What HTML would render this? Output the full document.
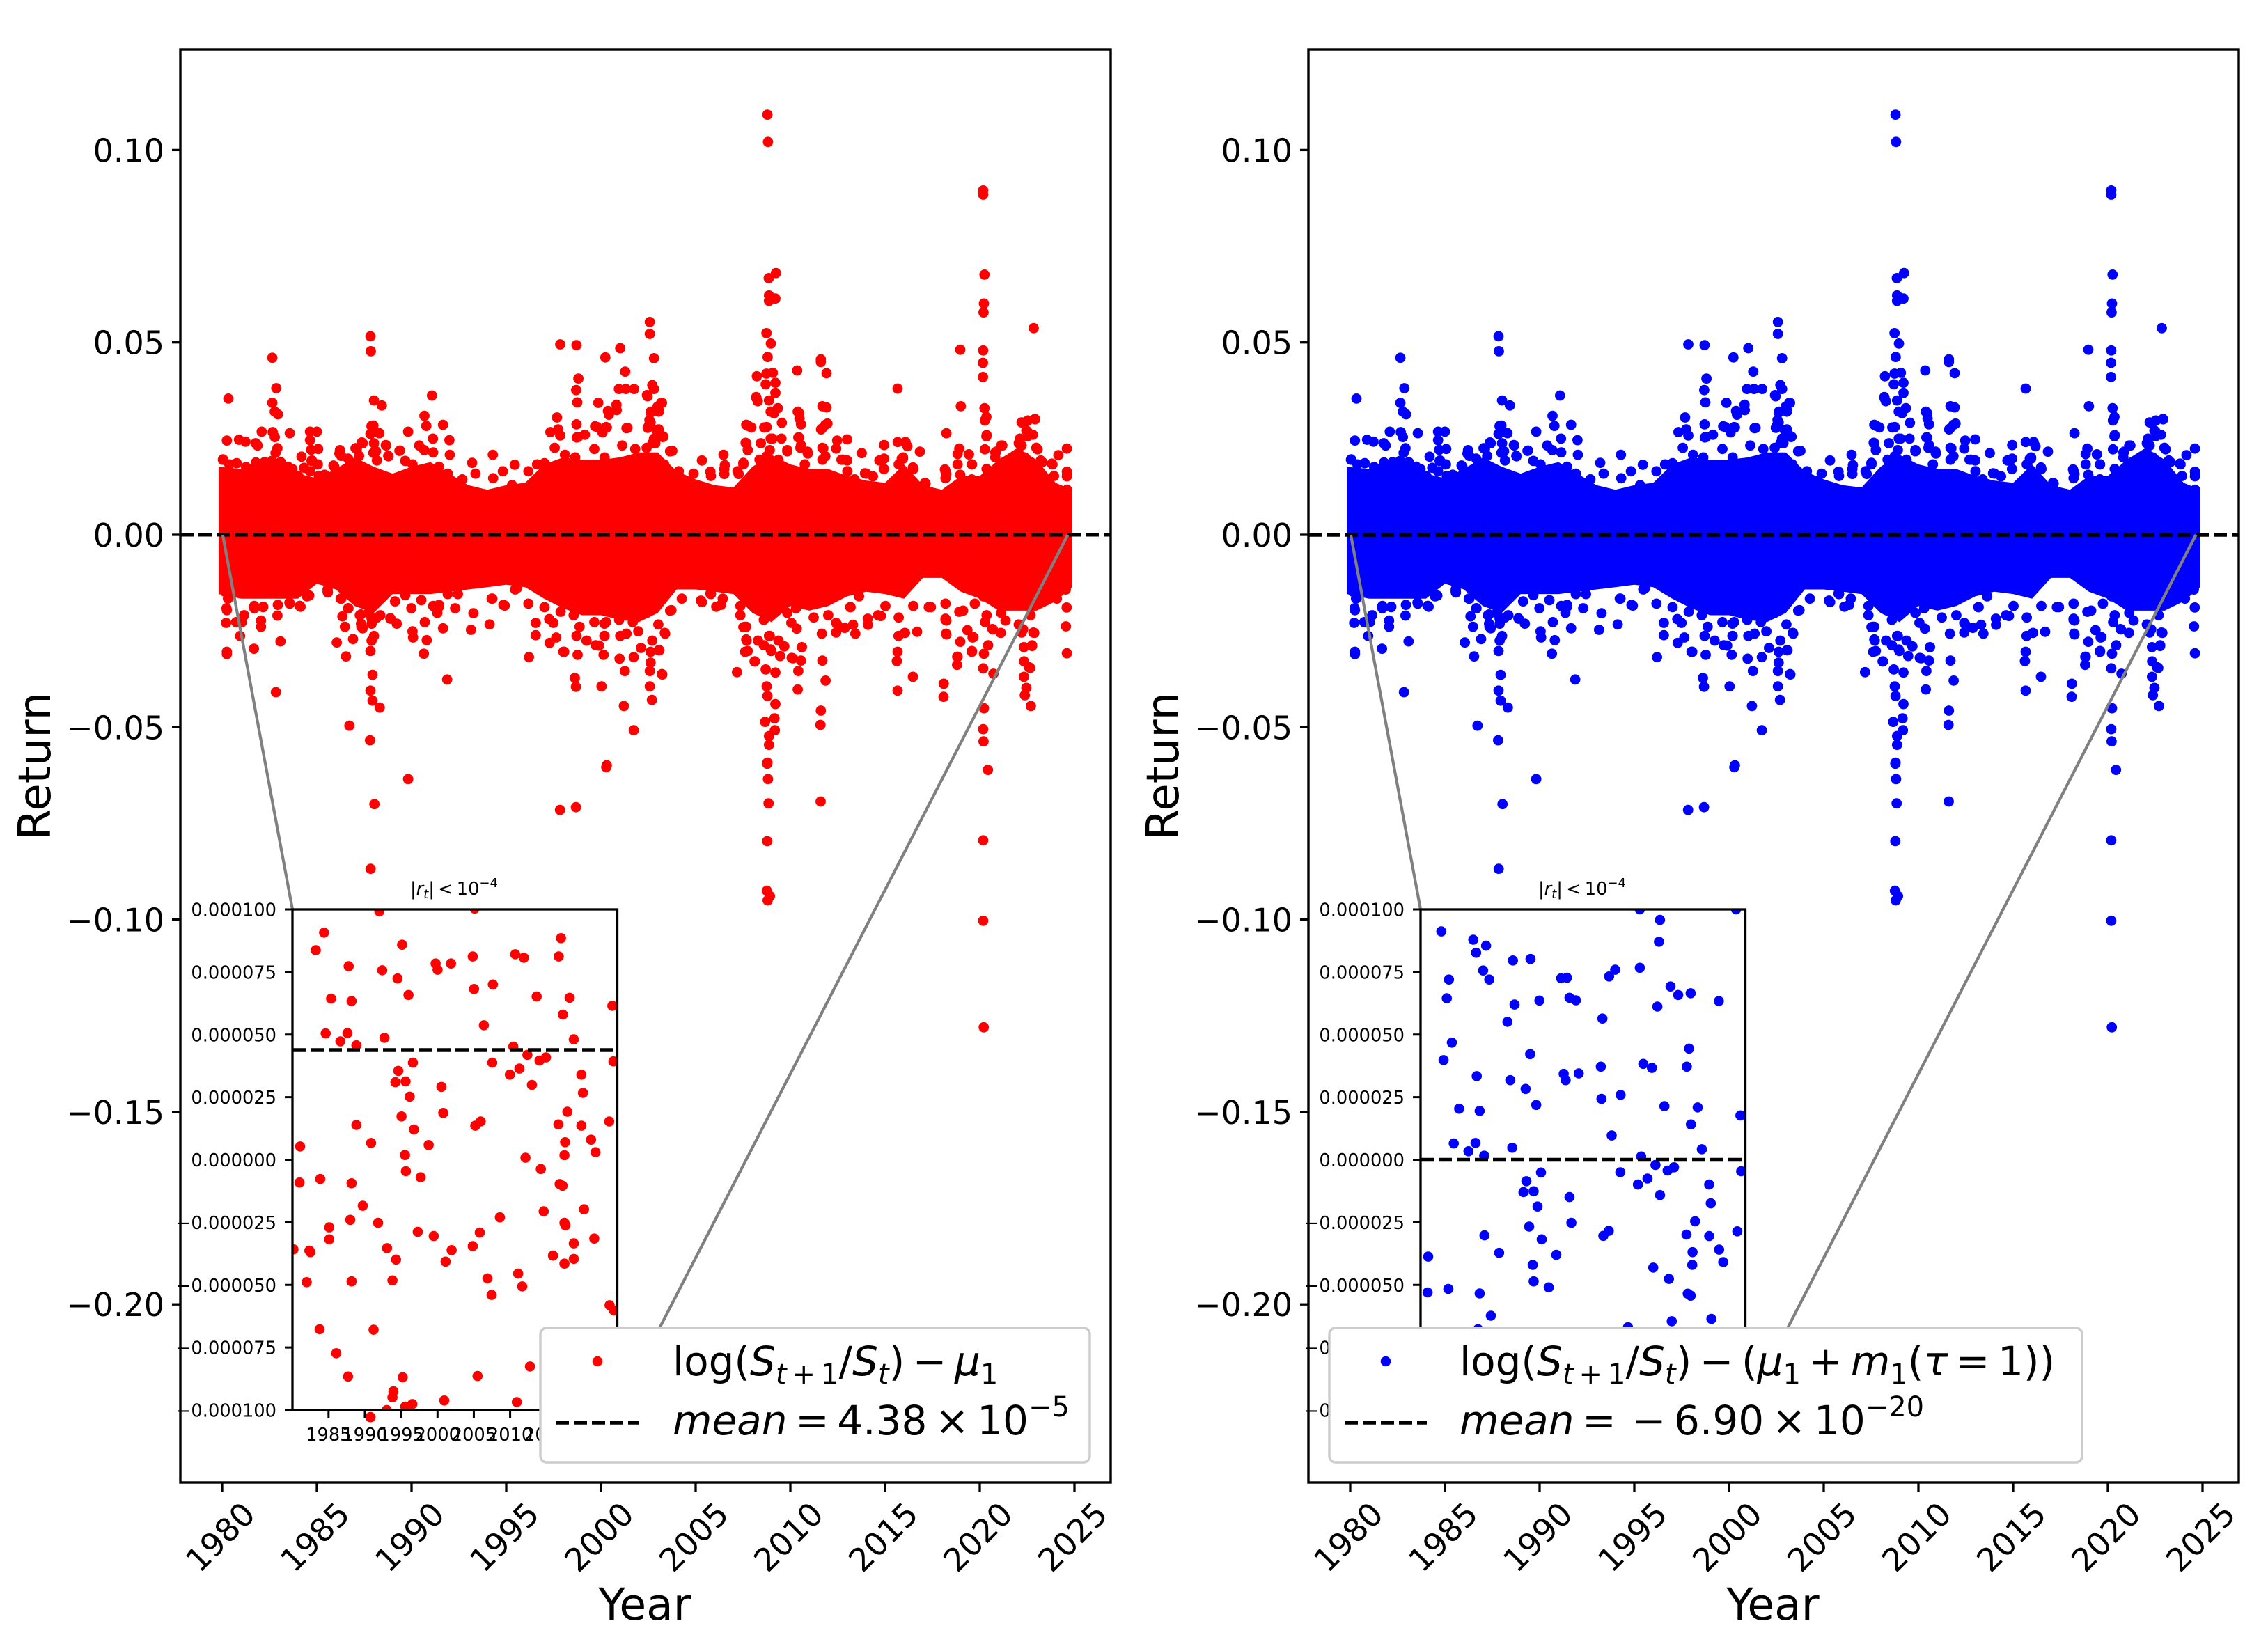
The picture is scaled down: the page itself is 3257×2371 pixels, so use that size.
<!DOCTYPE html>
<html lang="en">
<head>
<meta charset="utf-8">
<title>Returns scatter panels</title>
<style>
html,body{margin:0;padding:0;background:#fff;}
svg{display:block;}
text{font-family:"DejaVu Sans","Liberation Sans",sans-serif;fill:#000;}
.i{font-style:italic;}
</style>
</head>
<body>
<svg id="fig" xmlns="http://www.w3.org/2000/svg" width="3257" height="2371" viewBox="0 0 3257 2371">
<defs>
<clipPath id="inset-clip"><rect x="420" y="1306" width="466.5" height="719"/></clipPath>
</defs>
<rect width="3257" height="2371" fill="#fff"/>

<g id="left-panel"></g>
<g id="left-legend">
<rect x="776" y="1907" width="789" height="193" rx="9" fill="#fff" stroke="#ccc" stroke-width="3.4"/>
<circle cx="858" cy="1955" r="7.3" fill="#f00"/>
<line x1="798" x2="918" y1="2043" y2="2043" stroke="#000" stroke-width="5.5" stroke-dasharray="19 7"/>
<text x="966" y="1975" font-size="58">log(<tspan class="i">S</tspan><tspan class="i" font-size="40" dy="12">t</tspan><tspan font-size="40">&#8201;+&#8201;1</tspan><tspan dy="-12">/</tspan><tspan class="i">S</tspan><tspan class="i" font-size="40" dy="12">t</tspan><tspan dy="-12">)&#8201;−&#8201;</tspan><tspan class="i">μ</tspan><tspan font-size="40" dy="12">1</tspan></text>
<text x="966" y="2060" font-size="58"><tspan class="i">mean</tspan>&#8201;=&#8201;4.38&#8201;×&#8201;10<tspan font-size="40" dy="-26">−5</tspan></text>
</g>

<g id="right-panel"></g>
<g id="right-legend">
<rect x="1909" y="1907" width="1081" height="193" rx="9" fill="#fff" stroke="#ccc" stroke-width="3.4"/>
<circle cx="1990" cy="1955" r="7.3" fill="#00f"/>
<line x1="1931" x2="2049" y1="2043" y2="2043" stroke="#000" stroke-width="5.5" stroke-dasharray="19 7"/>
<text x="2096" y="1975" font-size="58">log(<tspan class="i">S</tspan><tspan class="i" font-size="40" dy="12">t</tspan><tspan font-size="40">&#8201;+&#8201;1</tspan><tspan dy="-12">/</tspan><tspan class="i">S</tspan><tspan class="i" font-size="40" dy="12">t</tspan><tspan dy="-12">)&#8201;−&#8201;(</tspan><tspan class="i">μ</tspan><tspan font-size="40" dy="12">1</tspan><tspan dy="-12">&#8201;+&#8201;</tspan><tspan class="i">m</tspan><tspan font-size="40" dy="12">1</tspan><tspan dy="-12">(</tspan><tspan class="i">τ</tspan>&#8201;=&#8201;1))</text>
<text x="2096" y="2060" font-size="58"><tspan class="i">mean</tspan>&#8201;=&#8201;&#8201;−&#8201;6.90&#8201;×&#8201;10<tspan font-size="40" dy="-26">−20</tspan></text>
</g>

<text x="926" y="2326" font-size="63" text-anchor="middle">Year</text>
<text x="2546" y="2326" font-size="63" text-anchor="middle">Year</text>
<text transform="translate(72 1100) rotate(-90)" font-size="64" text-anchor="middle">Return</text>
<text transform="translate(1692 1100) rotate(-90)" font-size="64" text-anchor="middle">Return</text>
</svg>

<script>
// ---- Chart data ----
const xTickYears = [1980,1985,1990,1995,2000,2005,2010,2015,2020,2025];
const yTickValues = [0.10,0.05,0,-0.05,-0.10,-0.15,-0.20];
const yTickLabels = ["0.10","0.05","0.00","−0.05","−0.10","−0.15","−0.20"];
const insetXTickYears = [1985,1990,1995,2000,2005,2010,2015,2020];
const insetYTickMicro = [100,75,50,25,0,-25,-50,-75,-100];
const insetYTickLabels = ["0.000100","0.000075","0.000050","0.000025","0.000000","−0.000025","−0.000050","−0.000075","−0.000100"];
const meanMainLeft = 0.0000438;
const meanMainRight = 0;
const meanMicroLeft = 43.8;
const meanMicroRight = 0;
const connectorYears = [1980.03,2024.65];

// Solid core of the daily-return cloud: visible edge per year.
const bandYears = [1979.82,1981,1982,1983,1984,1985,1986,1987,1988,1989,1990,1991,1992,1993,1994,1995,1996,1997,1998,1999,2000,2001,2002,2003,2004,2005,2006,2007,2008,2009,2010,2011,2012,2013,2014,2015,2016,2017,2018,2019,2020,2021,2022,2023,2024,2024.88];
const bandUpper = [.0177,.0171,.0195,.0189,.0159,.0147,.0171,.0201,.0177,.0159,.0177,.0189,.0159,.0129,.0117,.0129,.0135,.0183,.0201,.0195,.0195,.0201,.0214,.0214,.0165,.0144,.0129,.0123,.0177,.0208,.0183,.0171,.0171,.0153,.0141,.0135,.0183,.0129,.0117,.0153,.0153,.0195,.0226,.0195,.0135,.0117];
const bandLower = [-.0154,-.0166,-.0166,-.0166,-.0166,-.0127,-.0142,-.0185,-.0203,-.0154,-.0154,-.0154,-.0148,-.0142,-.0136,-.0130,-.0136,-.0166,-.0191,-.0209,-.0209,-.0221,-.0227,-.0203,-.0142,-.0142,-.0148,-.0154,-.0203,-.0227,-.0185,-.0197,-.0185,-.0160,-.0148,-.0154,-.0166,-.0112,-.0112,-.0148,-.0166,-.0197,-.0197,-.0197,-.0173,-.0136];

// Points forming the lumpy outer edge of the cloud
const edgeUpperEarly = [[1980.04,.0195],[1980.38,.0183],[1980.77,.0186],[1981.26,.0176],[1981.78,.0188],[1982.24,.0189],[1982.63,.0192],[1983.09,.0189],[1983.48,.0177],[1983.71,.0171],[1984.02,.0153],[1984.33,.0174],[1984.72,.0192],[1985.02,.0183],[1984.64,.0165],[1985.1,.0153],[1985.41,.0156],[1985.88,.0180],[1986.19,.0211],[1986.65,.0198],[1987.11,.0223],[1987.42,.0238],[1987.89,.0283],[1988.27,.0265],[1988.66,.0232],[1988.12,.0217],[1988.78,.0204],[1989.36,.0218],[1989.67,.0192],[1990.05,.0183],[1990.67,.0220],[1991.14,.0214],[1991.45,.0177],[1991.91,.0159],[1992.68,.0144],[1993.38,.0159],[1994.31,.0147],[1994.82,.0165],[1995.31,.0129],[1996.17,.0165],[1996.63,.0183],[1997.02,.0186],[1997.56,.0226],[1998.1,.0208],[1998.64,.0201],[1999.65,.0223],[1998.72,.0253],[1999.8,.0280],[2000.27,.0280],[2001.35,.0277],[2001.12,.0232],[2000.19,.0201],[2001.81,.0223]];
const edgeLowerEarly = [[1980.15,-.0148],[1980.31,-.0166],[1980.85,-.0148],[1981.7,-.0185],[1982.16,-.0188],[1982.94,-.0182],[1983.55,-.0176],[1984.1,-.0185],[1984.48,-.0157],[1985.57,-.0142],[1986.26,-.0166],[1986.65,-.0191],[1987.27,-.0209],[1987.73,-.0203],[1988.35,-.0209],[1989.13,-.0173],[1989.67,-.0157],[1990.52,-.0170],[1991.14,-.0185],[1991.45,-.0182],[1991.91,-.0154],[1992.45,-.0154],[1993.3,-.0127],[1994.23,-.0166],[1994.85,-.0182],[1995.47,-.0142],[1996.17,-.0179],[1997.02,-.0188],[1997.87,-.0200],[1998.56,-.0209],[1998.87,-.0239],[1999.65,-.0227],[2000.27,-.0227],[2000.96,-.0221],[2001.35,-.0257],[2001.97,-.0251]];
const edgeUpperLate = [[2002.41,.0226],[2002.87,.0238],[2003.65,.0217],[2003.34,.0183],[2004.11,.0165],[2004.89,.0159],[2005.81,.0153],[2006.51,.0171],[2007.21,.0165],[2007.52,.0183],[2008.37,.0195],[2008.75,.0204],[2009.37,.0195],[2009.84,.0217],[2010.76,.0183],[2011.69,.0195],[2012.78,.0195],[2013.01,.0165],[2014.01,.0159],[2013.39,.0144],[2014.94,.0171],[2015.95,.0198],[2016.49,.0171],[2017.11,.0135],[2018.19,.0165],[2018.97,.0156],[2019.58,.0144],[2020.36,.0171],[2020.82,.0201],[2021.29,.0189],[2022.21,.0232],[2022.52,.0256],[2022.99,.0226],[2022.37,.0201],[2023.3,.0189],[2023.92,.0153],[2024.61,.0117]];
const edgeLowerLate = [[2002.41,-.0203],[2003.03,-.0233],[2003.65,-.0197],[2004.27,-.0166],[2005.81,-.0154],[2006.43,-.0166],[2007.36,-.0185],[2007.36,-.0209],[2007.67,-.0239],[2007.67,-.0272],[2008.6,-.0221],[2009.84,-.0203],[2010.3,-.0191],[2011.23,-.0215],[2012.0,-.0209],[2012.47,-.0233],[2013.16,-.0188],[2013.63,-.0160],[2014.09,-.0218],[2014.63,-.0209],[2015.02,-.0185],[2015.72,-.0215],[2016.49,-.0185],[2017.42,-.0188],[2018.19,-.0179],[2018.19,-.0221],[2019.12,-.0197],[2019.74,-.0179],[2020.2,-.0160],[2021.13,-.0203],[2021.44,-.0179],[2022.06,-.0233],[2022.68,-.0209],[2023.45,-.0166],[2024.07,-.0166],[2024.54,-.0142]];

// Individually visible points above the core, 1980-2002
const upperFringeEarly = [[1980.33,.0354],[1982.65,.0460],[1982.86,.0381],[1982.65,.0343],[1982.78,.0320],[1982.95,.0313],[1987.83,.0516],[1987.85,.0477],[1988.02,.0349],[1988.43,.0336],[1991.08,.0362],[1990.68,.0309],[1990.78,.0283],[1991.66,.0286],[1989.82,.0268],[1991.13,.0250],[1992.0,.0246],[1992.02,.0208],[1990.4,.0232],[1989.39,.0219],[1993.2,.0187],[1994.29,.0208],[1995.45,.0182],[1997.85,.0495],[1998.71,.0493],[2001.02,.0485],[2000.23,.0461],[2002.58,.0553],[2002.58,.0522],[2002.8,.0459],[2001.28,.0424],[1998.81,.0406],[1998.69,.0376],[1998.75,.0344],[2000.95,.0379],[2001.32,.0379],[2001.75,.0379],[2002.71,.0389],[2002.8,.0379],[2002.43,.0363],[1999.86,.0343],[2000.82,.0338],[2000.83,.0324],[2000.37,.0322],[2000.42,.0312],[2003.18,.0343],[2002.99,.0333],[2003.07,.0322],[2002.62,.0318],[1997.68,.0305],[1998.71,.0287],[1997.74,.0274],[1997.33,.0267],[1997.85,.0258],[1999.69,.0282],[2000.31,.0279],[2001.4,.0278],[2002.62,.0292],[2002.47,.0278],[2002.94,.0272],[2003.27,.0254],[1998.79,.0254],[1999.15,.0260],[2000.08,.0266],[1980.05,.0196],[1980.25,.0245],[1980.89,.0247],[1981.23,.0242],[1981.77,.0238],[1981.87,.0232],[1982.09,.0268],[1982.67,.0267],[1982.78,.0254],[1983.57,.0264],[1984.64,.0268],[1985.0,.0268],[1984.64,.0246],[1984.7,.0221],[1985.07,.0223],[1982.92,.0225],[1982.82,.0213],[1984.19,.0203],[1984.74,.0193],[1985.05,.0183],[1986.22,.0220],[1986.29,.0205],[1987.04,.0225],[1987.38,.0240],[1987.89,.0282],[1987.98,.0284],[1988.3,.0264],[1987.83,.0262],[1988.02,.0238],[1988.64,.0233],[1987.98,.0213],[1988.17,.0193],[1988.77,.0205],[1987.23,.0205],[1985.92,.0177]];

// Individually visible points above the core, 2002-2025
const upperFringeLate = [[2008.79,.1092],[2008.82,.1021],[2020.18,.0895],[2020.18,.0884],[2009.24,.0680],[2008.86,.0667],[2020.25,.0676],[2008.87,.0622],[2008.87,.0608],[2009.21,.0614],[2020.22,.0601],[2020.2,.0578],[2022.85,.0537],[2008.74,.0524],[2008.97,.0497],[2008.8,.0462],[2018.97,.0481],[2020.18,.0479],[2020.17,.0447],[2020.17,.0410],[2011.61,.0456],[2011.61,.0449],[2011.91,.0420],[2010.36,.0427],[2008.23,.0412],[2008.74,.0419],[2009.07,.0421],[2015.66,.0380],[2008.2,.0358],[2008.28,.0347],[2008.7,.0391],[2009.21,.0395],[2009.21,.0369],[2008.87,.0349],[2008.96,.0320],[2009.34,.0329],[2019.0,.0334],[2011.69,.0334],[2011.91,.0331],[2020.25,.0329],[2020.35,.0306],[2020.27,.0297],[2010.39,.0320],[2010.56,.0287],[2010.48,.0302],[2022.29,.0291],[2022.92,.0300],[2022.54,.0297],[2011.96,.0289],[2011.66,.0276],[2007.78,.0283],[2007.64,.0239],[2007.94,.0279],[2009.55,.0291],[2008.62,.0279],[2008.96,.0250],[2010.42,.0253],[2011.74,.0225],[2018.24,.0264],[2020.35,.0256],[2020.27,.0222],[2013.0,.0248],[2012.47,.0245],[2012.42,.0224],[2014.95,.0233],[2015.67,.0241],[2016.08,.0241],[2016.18,.0230],[2016.84,.0216],[2013.77,.0212],[2018.92,.0224],[2018.83,.0210],[2019.42,.0209],[2018.83,.0183],[2019.59,.0183],[2021.19,.0232],[2020.86,.0216],[2024.6,.0224],[2024.15,.0207],[2023.81,.0185],[2024.6,.0164],[2024.6,.0152],[2022.46,.0271],[2022.8,.0260],[2023.05,.0222],[2022.12,.0250],[2021.87,.0204],[2006.47,.0208],[2005.33,.0193],[2006.54,.0181],[2005.78,.0164],[2006.51,.0158],[2002.8,.0250],[2003.77,.0218],[2003.3,.0255],[2003.05,.0274],[2002.54,.0285],[2002.46,.0360],[2003.22,.0343],[2003.05,.0320],[2002.63,.0320],[2010.9,.0216],[2010.56,.0233],[2013.0,.0193],[2014.7,.0193],[2014.95,.0198],[2015.88,.0198],[2016.47,.0175],[2013.94,.0160],[2014.36,.0152],[2017.14,.0133],[2018.16,.0170],[2018.24,.0158],[2023.22,.0193],[2007.27,.0158],[2008.45,.0193],[2007.52,.0187],[2024.61,.0159],[2023.84,.0183],[2022.91,.0301],[2022.21,.0292],[2022.52,.0268],[2022.06,.0238],[2022.99,.0226],[2022.06,.0201],[2020.28,.0298],[2020.36,.0259],[2021.13,.0232],[2020.82,.0214],[2019.43,.0209],[2019.58,.0183],[2018.19,.0165],[2018.19,.0147],[2014.87,.0195],[2014.94,.0171],[2015.95,.0201],[2015.72,.0183],[2016.49,.0171],[2007.52,.0186],[2007.67,.0238],[2007.75,.0220],[2011.85,.0286],[2011.62,.0274],[2010.46,.0316],[2010.46,.0253],[2010.53,.0226],[2010.92,.0211],[2011.69,.0226],[2011.85,.0204],[2012.7,.0195],[2013.01,.0165],[2007.67,.0286],[2008.75,.0280],[2008.21,.0355],[2009.14,.0316],[2008.44,.0238],[2009.06,.0250],[2009.53,.0250],[2008.91,.0220],[2009.84,.0220],[2002.56,.0298],[2002.49,.0280],[2002.8,.0250],[2003.26,.0256],[2003.65,.0217],[2002.72,.0238]];

// Individually visible points below the core, 1980-2003
const lowerFringeEarly = [[1980.25,-.0196],[1980.74,-.0227],[1980.21,-.0229],[1981.04,-.0227],[1980.95,-.0263],[1980.25,-.0304],[1980.25,-.0310],[1981.68,-.0296],[1982.05,-.0223],[1982.05,-.0239],[1981.7,-.0191],[1982.17,-.0187],[1982.92,-.0210],[1983.08,-.0277],[1982.84,-.0409],[1984.14,-.0187],[1983.57,-.0179],[1984.6,-.0158],[1985.58,-.0150],[1986.29,-.0166],[1986.67,-.0191],[1986.35,-.0212],[1986.48,-.0239],[1986.05,-.0280],[1986.91,-.0271],[1986.54,-.0316],[1987.33,-.0207],[1987.42,-.0243],[1987.33,-.0231],[1988.17,-.0215],[1987.89,-.0231],[1988.88,-.0217],[1989.22,-.0231],[1988.02,-.0263],[1987.89,-.0275],[1987.83,-.0302],[1987.94,-.0364],[1987.83,-.0405],[1987.94,-.0431],[1988.32,-.0449],[1986.72,-.0496],[1987.81,-.0534],[1990.05,-.0251],[1990.08,-.0267],[1989.99,-.0191],[1990.8,-.0274],[1990.65,-.0309],[1990.7,-.0227],[1991.66,-.0243],[1992.3,-.0191],[1991.88,-.0376],[1991.45,-.0187],[1991.36,-.0203],[1993.27,-.0204],[1993.14,-.0247],[1994.12,-.0233],[1994.92,-.0184],[1995.58,-.0138],[1994.27,-.0166],[1996.56,-.0229],[1996.56,-.0261],[1996.2,-.0318],[1997.27,-.0219],[1997.49,-.0229],[1997.64,-.0267],[1997.29,-.0281],[1998.06,-.0304],[1998.77,-.0312],[1998.71,-.0263],[1999.24,-.0275],[1998.62,-.0372],[1998.68,-.0395],[2000.03,-.0394],[2000.14,-.0312],[1999.9,-.0288],[2000.18,-.0263],[2000.98,-.0322],[2001.26,-.0354],[2001.73,-.0318],[2002.11,-.0294],[2002.62,-.0304],[2003.09,-.0300],[2002.62,-.0332],[2002.58,-.0354],[2003.24,-.0363],[2002.58,-.0394],[2002.69,-.0429],[2001.21,-.0445],[2001.73,-.0508],[2000.31,-.0599],[2003.37,-.0255],[2002.71,-.0275],[2001.02,-.0263],[2001.68,-.0227],[2000.18,-.0231],[2005.8,-.0154],[2005.34,-.0175],[2006.09,-.0187],[1980.23,-.0191],[1981.16,-.0209],[1984.1,-.0185],[1984.48,-.0160],[1985.57,-.0148],[1987.35,-.0239],[1987.89,-.0218],[1988.89,-.0218],[1998.02,-.0304],[1999.72,-.0287],[2000.19,-.0263]];

// Individually visible points below the core, 2003-2025
const lowerFringeLate = [[2003.22,-.0362],[2003.05,-.0300],[2003.39,-.0257],[2003.72,-.0196],[2007.18,-.0357],[2008.75,-.0394],[2008.79,-.0419],[2009.21,-.0440],[2009.16,-.0477],[2008.67,-.0486],[2008.87,-.0523],[2008.87,-.0546],[2009.18,-.0508],[2008.79,-.0592],[2008.11,-.0329],[2007.61,-.0304],[2007.69,-.0275],[2007.52,-.0240],[2008.7,-.0350],[2009.21,-.0358],[2008.96,-.0298],[2008.87,-.0263],[2009.46,-.0315],[2010.14,-.0321],[2010.61,-.0292],[2010.56,-.0327],[2010.42,-.0354],[2010.39,-.0402],[2011.61,-.0457],[2011.59,-.0494],[2011.86,-.0379],[2011.69,-.0327],[2011.66,-.0257],[2010.05,-.0229],[2010.34,-.0244],[2012.42,-.0254],[2012.42,-.0229],[2013.43,-.0257],[2012.87,-.0242],[2013.31,-.0234],[2014.1,-.0234],[2014.78,-.0211],[2013.18,-.0188],[2015.71,-.0263],[2016.05,-.0255],[2016.69,-.0252],[2015.66,-.0304],[2015.62,-.0328],[2015.66,-.0405],[2016.47,-.0369],[2018.1,-.0387],[2018.09,-.0421],[2018.24,-.0259],[2018.83,-.0317],[2018.8,-.0338],[2018.97,-.0278],[2019.59,-.0304],[2019.62,-.0267],[2020.18,-.0347],[2020.72,-.0361],[2020.22,-.0309],[2020.22,-.0451],[2020.18,-.0505],[2020.2,-.0537],[2022.33,-.0292],[2022.76,-.0289],[2022.34,-.0329],[2022.66,-.0346],[2022.33,-.0369],[2022.46,-.0398],[2022.38,-.0417],[2022.7,-.0445],[2024.59,-.0189],[2024.55,-.0238],[2024.6,-.0308],[2022.88,-.0255],[2022.29,-.0246],[2021.36,-.0223],[2020.69,-.0246],[2021.11,-.0255],[2017.31,-.0188],[2018.24,-.0223],[2018.92,-.0200],[2006.34,-.0182],[2005.78,-.0153],[2005.28,-.0171],[2007.59,-.0239],[2007.75,-.0302],[2008.13,-.0329],[2008.29,-.0275],[2008.6,-.0287],[2008.91,-.0263],[2009.37,-.0275],[2009.68,-.0290],[2008.99,-.0302],[2010.07,-.0320],[2018.19,-.0218],[2018.22,-.0257],[2019.35,-.0248],[2019.66,-.0266],[2020.36,-.0209],[2020.28,-.0227],[2020.67,-.0245],[2020.44,-.0287],[2019.59,-.0302],[2018.81,-.0317],[2022.21,-.0254],[2022.83,-.0254],[2022.76,-.0287],[2022.6,-.0344],[2024.54,-.0142]];

// Isolated extreme losses
const extremeLosses = [[1989.82,-.0635],[1988.04,-.0700],[2000.28,-.0604],[1997.84,-.0715],[1998.68,-.0708],[1987.84,-.0868],[1987.83,-.2293],[2008.78,-.0595],[2008.82,-.0635],[2008.85,-.0698],[2008.78,-.0796],[2008.76,-.0925],[2008.92,-.0939],[2008.8,-.0950],[2011.6,-.0693],[2020.43,-.0611],[2020.18,-.0794],[2020.18,-.1003],[2020.21,-.1280]];

// Inset: year and return (in units of 1e-6) for |r| < 1e-4, red panel
const redInsetPoints = [[1981.08,5.3],[1981.0,-9.1],[1980.16,-35.8],[1982.36,-36.3],[1982.49,-36.9],[1982.0,-48.9],[1983.24,83.7],[1984.38,90.7],[1985.35,64.4],[1984.6,50.5],[1986.63,47.3],[1987.6,50.6],[1987.77,77.3],[1988.17,63.4],[1988.83,45.7],[1988.83,13.9],[1983.86,-7.7],[1988.17,-9.4],[1989.71,-18.4],[1987.99,-24],[1985.09,-27],[1985.09,-31.8],[1991.82,-25.2],[1993.05,-35.3],[1994.29,-39.9],[1993.8,-48.2],[1988.17,-48.6],[1983.77,-67.7],[1991.2,-67.9],[1986.06,-77.3],[1987.68,-86.6],[1995.21,-86.9],[1993.93,-92.5],[1993.8,-94.9],[1995.56,-98.6],[1996.53,-97.6],[1993.01,-100],[1992.0,99.2],[1995.12,85.9],[1992.39,75.7],[1994.5,72.4],[1996.0,65.8],[1992.7,48.7],[1990.85,6.7],[1994.6,35.5],[1994.2,31],[1995.6,31.3],[1996.62,38.8],[1996.18,25.2],[1995.04,17.3],[1996.75,12.1],[1998.78,5.9],[1995.52,1.9],[1995.65,-4.6],[1997.68,-7],[1997.28,-28.8],[1999.48,-30.5],[2001.95,-36.1],[2001.11,-40.7],[2000.93,-96.2],[1999.74,78.4],[2000.01,75.9],[2001.86,78.4],[2004.85,81.2],[2005.03,68.2],[2007.62,70],[2006.39,53.7],[2005.11,100.3],[2000.54,29.1],[2000.8,18.7],[2005.2,13.6],[2005.95,15.3],[2007.54,38.8],[2009.96,34],[2010.44,45.2],[2011.28,36.4],[2012.38,41.9],[2014.05,39.6],[2014.93,40.9],[2013.0,29.9],[2010.7,82.1],[2011.89,80.7],[2013.65,65.2],[2016.69,81.2],[2017.0,88.5],[2018.19,64.7],[2017.26,58],[2018.76,48.1],[2024.08,61.5],[2024.22,39.3],[2019.81,34],[2020.03,26.7],[2017.88,19.2],[2016.65,14.1],[2019.81,13.6],[2017.57,7],[2017.48,1.8],[2021.14,8],[2021.76,3],[2023.64,15.3],[2012.11,0.8],[2014.23,-3.7],[2016.82,-9.7],[2017.22,-10.4],[2014.62,-20.6],[2020.17,-19.8],[2017.48,-25.2],[2017.61,-26.2],[2008.59,-23],[2005.82,-29.1],[2004.85,-34.5],[2018.76,-33.4],[2021.58,-31.5],[2015.9,-38.3],[2017.48,-41.5],[2018.76,-39.6],[2006.88,-47.4],[2007.45,-54],[2011.1,-45.5],[2011.67,-50.6],[2023.69,-58.1],[2024.3,-60.2],[2012.73,-82.6],[2005.51,-86.4],[2010.92,-96.8]];

// Inset: year and return (in units of 1e-6), blue panel
const blueInsetPoints = [[1981.08,-38.7],[1981.0,-53],[1983.86,-51.6],[1988.17,-53.4],[1989.71,-62.3],[1982.89,91.2],[1983.2,39.8],[1984.34,46.8],[1983.94,72],[1983.64,64.5],[1985.35,20.4],[1984.6,6.5],[1986.63,3.4],[1987.6,6.7],[1988.79,1.6],[1987.77,33.4],[1988.17,19.5],[1987.29,87.9],[1987.68,82.7],[1989.05,85.5],[1988.65,75.6],[1989.49,72],[1992.75,79.6],[1995.17,80.2],[1992.97,62],[1996.4,63.6],[1992.0,55.1],[1995.12,42.2],[1992.39,31.8],[1994.5,28.3],[1995.96,21.9],[1992.66,4.8],[1990.85,-37.2],[1988.83,-30.2],[1994.6,-8.6],[1994.2,-12.9],[1995.6,-12.6],[1996.62,-5.1],[1996.14,-18.7],[1994.99,-26.7],[1996.71,-31.8],[1995.48,-42],[1995.61,-48.6],[1997.68,-51],[1998.73,-38],[2000.54,-14.9],[2000.8,-25.2],[1999.39,72.5],[2000.19,72.7],[2000.54,64.7],[2001.42,63.7],[1999.74,34.3],[2000.01,31.8],[2001.81,34.5],[2004.85,37.2],[2004.94,24.3],[2007.58,25.9],[2006.35,9.7],[2005.07,56.4],[2005.99,73.2],[2006.83,75.9],[2010.22,76.7],[2010.22,100],[2012.99,95.8],[2012.86,87.1],[2012.64,61.2],[2014.45,69.2],[2015.5,65.8],[2017.22,66.5],[2021.09,63.4],[2023.47,100],[2010.7,38.3],[2011.89,36.7],[2016.69,37.2],[2017.0,44.4],[2013.61,21.4],[2018.19,20.9],[2017.26,14.1],[2018.76,4.2],[2024.08,17.7],[2010.4,1.3],[2007.54,-5],[2009.96,-9.9],[2011.28,-7.5],[2012.38,-2.1],[2014.05,-4.3],[2014.93,-3],[2013,-14.1],[2024.17,-4.6],[2019.77,-9.9],[2019.99,-17.4],[2017.83,-24.6],[2016.65,-29.9],[2019.77,-30.5],[2017.48,-36.9],[2021.14,-35.9],[2021.71,-40.9],[2017.44,-42],[2023.64,-28.6],[2005.2,-30.4],[2005.95,-28.4],[2012.07,-43.1],[2014.23,-47.6],[2016.82,-53.5],[2017.22,-54.3],[2014.62,-64.5],[2020.08,-63.6],[2008.59,-66.9],[1987.95,-67.7]];

// ---- Axis functions ----
const SVGNS = "http://www.w3.org/2000/svg";
function xMain(year){ return 319 + (year - 1980) * 27.2; }
function yMain(ret){ return 768 - ret * 5526; }
function xInset(year){ return 420 + (year - 1980.03) * 10.43; }
function yInset(micro){ return 1665.5 - micro * 3.595; }

function add(parent, tag, attrs, name, txt){
  const node = document.createElementNS(SVGNS, tag);
  for (const k in attrs) node.setAttribute(k, attrs[k]);
  
  
  if (txt !== undefined) node.textContent = txt;
  parent.appendChild(node);
  return node;
}

function drawPanel(root, dx, color, meanMain, meanMicro, insetPoints, prefix){
  const main = add(root, 'g', {transform:'translate(' + dx + ' 0)'}, prefix + '-main-axes');

  // dense core
  let d = '';
  bandYears.forEach(function(y,i){ d += (i ? 'L' : 'M') + xMain(y).toFixed(1) + ' ' + yMain(bandUpper[i]).toFixed(1); });
  for (let i = bandYears.length - 1; i >= 0; i--) d += 'L' + xMain(bandYears[i]).toFixed(1) + ' ' + yMain(bandLower[i]).toFixed(1);
  add(main, 'path', {d:d + 'Z', fill:color}, prefix + '-returns-core');

  // individual points
  const pts = add(main, 'g', {fill:color}, prefix + '-return-points');
  [edgeUpperEarly, edgeLowerEarly, edgeUpperLate, edgeLowerLate, upperFringeEarly, upperFringeLate, lowerFringeEarly, lowerFringeLate, extremeLosses].forEach(function(list){
    list.forEach(function(p){
      add(pts, 'circle', {cx:xMain(p[0]).toFixed(1), cy:yMain(p[1]).toFixed(1), r:7.4}, prefix + '-return-point');
    });
  });

  // mean line
  add(main, 'line', {x1:259, x2:1595, y1:yMain(meanMain), y2:yMain(meanMain), stroke:'#000', 'stroke-width':5.5, 'stroke-dasharray':'19 7'}, prefix + '-mean-line');

  // connector lines
  add(main, 'line', {x1:xMain(connectorYears[0]), y1:yMain(0), x2:420, y2:1306, stroke:'#808080', 'stroke-width':4.2}, prefix + '-connector-left');
  add(main, 'line', {x1:xMain(connectorYears[1]), y1:yMain(0), x2:886.5, y2:2025, stroke:'#808080', 'stroke-width':4.2}, prefix + '-connector-right');

  // main ticks
  xTickYears.forEach(function(y){
    const tx = xMain(y);
    add(main, 'line', {x1:tx, x2:tx, y1:2129, y2:2143, stroke:'#000', 'stroke-width':3.3}, prefix + '-x-tick');
    add(main, 'text', {transform:'translate(' + (tx - 3) + ' 2207) rotate(-45)', 'font-size':46, 'text-anchor':'middle', dy:'0.36em'}, prefix + '-x-tick-label', String(y));
  });
  yTickValues.forEach(function(v,i){
    const ty = yMain(v);
    add(main, 'line', {x1:247, x2:259, y1:ty, y2:ty, stroke:'#000', 'stroke-width':3.3}, prefix + '-y-tick');
    add(main, 'text', {x:236, y:ty + 17, 'font-size':46, 'text-anchor':'end'}, prefix + '-y-tick-label', yTickLabels[i]);
  });
  add(main, 'rect', {x:259, y:71, width:1336, height:2058, fill:'none', stroke:'#000', 'stroke-width':3.4}, prefix + '-main-spines');

  // inset
  const inset = add(main, 'g', {}, prefix + '-inset');
  add(inset, 'rect', {x:420, y:1306, width:466.5, height:719, fill:'#fff'}, prefix + '-inset-background');
  const clip = add(inset, 'g', {'clip-path':'url(#inset-clip)'}, prefix + '-inset-plot-area');
  insetPoints.forEach(function(p){
    add(clip, 'circle', {cx:xInset(p[0]).toFixed(1), cy:yInset(p[1]).toFixed(1), r:7.3, fill:color}, prefix + '-inset-point');
  });
  add(clip, 'line', {x1:420, x2:886.5, y1:yInset(meanMicro), y2:yInset(meanMicro), stroke:'#000', 'stroke-width':5.5, 'stroke-dasharray':'19 7'}, prefix + '-inset-mean-line');
  insetXTickYears.forEach(function(y){
    const tx = xInset(y);
    add(inset, 'line', {x1:tx, x2:tx, y1:2025, y2:2036, stroke:'#000', 'stroke-width':3}, prefix + '-inset-x-tick');
    add(inset, 'text', {x:tx, y:2069, 'font-size':25.7, 'text-anchor':'middle'}, prefix + '-inset-x-tick-label', String(y));
  });
  insetYTickMicro.forEach(function(v,i){
    const ty = yInset(v);
    add(inset, 'line', {x1:409, x2:420, y1:ty, y2:ty, stroke:'#000', 'stroke-width':3}, prefix + '-inset-y-tick');
    add(inset, 'text', {x:397, y:ty + 9.5, 'font-size':25.7, 'text-anchor':'end'}, prefix + '-inset-y-tick-label', insetYTickLabels[i]);
  });
  add(inset, 'rect', {x:420, y:1306, width:466.5, height:719, fill:'none', stroke:'#000', 'stroke-width':3.3}, prefix + '-inset-spines');

  const title = add(inset, 'text', {x:652, y:1285, 'font-size':25.7, 'text-anchor':'middle'}, prefix + '-inset-title');
  title.innerHTML = '|<tspan class="i">r</tspan><tspan class="i" font-size="18" dy="5">t</tspan><tspan dy="-5">|&#8201;&lt;&#8201;10</tspan><tspan font-size="18" dy="-11">−4</tspan>';
}

drawPanel(document.getElementById('left-panel'), 0, '#ff0000', meanMainLeft, meanMicroLeft, redInsetPoints, 'left');
drawPanel(document.getElementById('right-panel'), 1620, '#0000ff', meanMainRight, meanMicroRight, blueInsetPoints, 'right');
</script>
</body>
</html>
